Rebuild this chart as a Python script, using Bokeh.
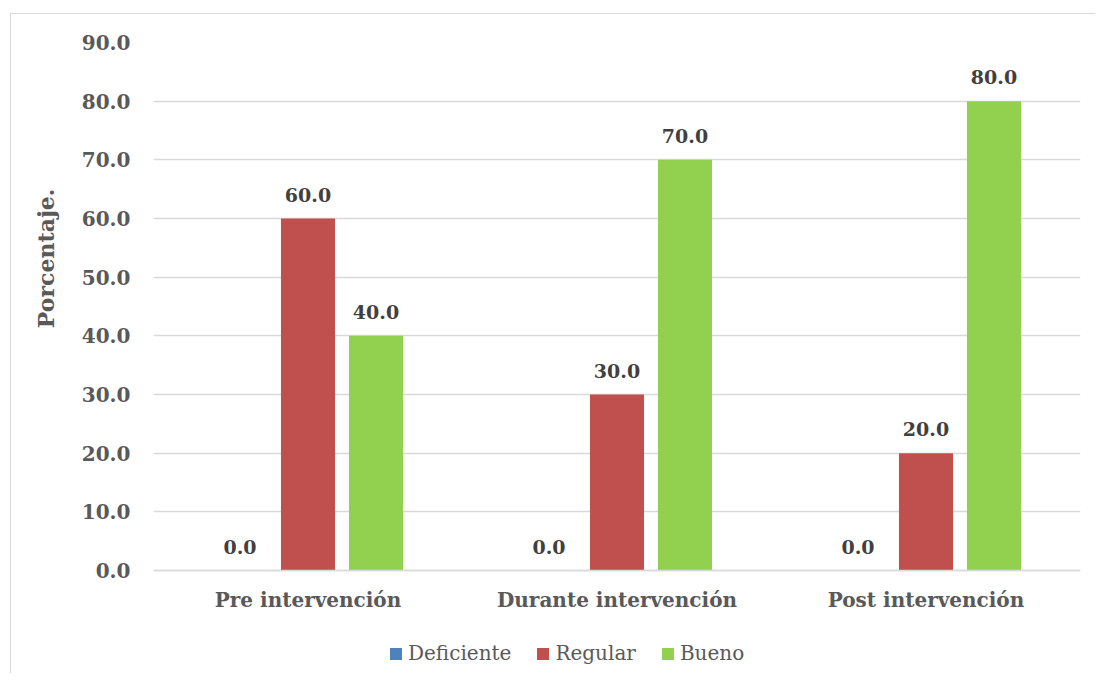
from bokeh.plotting import figure
from bokeh.models import (ColumnDataSource, FactorRange, FixedTicker, NumeralTickFormatter,
                          Legend, LegendItem, Title)
from bokeh.transform import dodge
from bokeh.core.properties import value
from bokeh.embed import file_html
from bokeh.resources import INLINE

categories = ["Pre intervención", "Durante intervención", "Post intervención"]
series_names = ["Deficiente", "Regular", "Bueno"]
deficiente = [0.0, 0.0, 0.0]
regular = [60.0, 30.0, 20.0]
bueno = [40.0, 70.0, 80.0]
y_ticks = [0, 10, 20, 30, 40, 50, 60, 70, 80, 90]
colors = ["#4F81BD", "#C0504D", "#92D050"]
y_title = "Porcentaje."

series_values = [deficiente, regular, bueno]
data = {"cat": categories}
for name, vals in zip(series_names, series_values):
    data[name] = vals
    data[name + "_lbl"] = [f"{v:.1f}" for v in vals]
src = ColumnDataSource(data)

FONT = "DejaVu Serif"

# frame spans 90 units over 528 px; extra room below zero holds the axis labels and legend
p = figure(width=1085, height=660,
           x_range=FactorRange(factors=categories, range_padding=0),
           y_range=(-17.045, 90),
           output_backend="svg", toolbar_location=None,
           min_border_left=142, min_border_right=16,
           min_border_top=28, min_border_bottom=4)
p.styles = {"margin-left": "10px", "margin-top": "13px",
            "border-left": "1px solid #d9d9d9", "border-top": "1px solid #d9d9d9"}
p.outline_line_color = None
p.background_fill_color = "white"
p.border_fill_color = "white"

offsets = [-0.22, 0.0, 0.22]
renderers = []
for name, off, col in zip(series_names, offsets, colors):
    r = p.vbar(x=dodge("cat", off, range=p.x_range), top=name, width=0.175,
               source=src, fill_color=col, line_color=None)
    renderers.append(r)
    p.text(x=dodge("cat", off, range=p.x_range), y=name, text=name + "_lbl",
           source=src, text_align="center", text_baseline="alphabetic", y_offset=-24,
           text_font=value(FONT), text_font_style="bold", text_font_size="19px",
           text_color="#404040")

p.xgrid.grid_line_color = None
p.ygrid.grid_line_color = "#d9d9d9"
p.ygrid.grid_line_width = 1.3
p.ygrid.ticker = FixedTicker(ticks=y_ticks)

p.yaxis.ticker = FixedTicker(ticks=y_ticks)
p.yaxis.formatter = NumeralTickFormatter(format="0.0")
p.yaxis.axis_line_color = None
p.yaxis.major_tick_line_color = None
p.yaxis.major_tick_out = 0
p.yaxis.minor_tick_line_color = None
p.yaxis.minor_tick_out = 0
p.yaxis.major_label_text_font = FONT
p.yaxis.major_label_text_font_style = "bold"
p.yaxis.major_label_text_font_size = "20px"
p.yaxis.major_label_text_color = "#595959"
p.yaxis.major_label_standoff = 23

p.xaxis.fixed_location = 0
p.xaxis.axis_line_color = "#d9d9d9"
p.xaxis.axis_line_width = 1.3
p.xaxis.major_tick_line_color = None
p.xaxis.major_tick_out = 0
p.xaxis.minor_tick_line_color = None
p.xaxis.minor_tick_out = 0
p.xaxis.major_label_text_font = FONT
p.xaxis.major_label_text_font_style = "bold"
p.xaxis.major_label_text_font_size = "20px"
p.xaxis.major_label_text_color = "#595959"
p.xaxis.major_label_standoff = 17

p.add_layout(Title(text=y_title, align="right", vertical_align="middle", offset=146,
                   standoff=37, text_font=FONT, text_font_style="bold",
                   text_font_size="22px", text_color="#595959"), "left")

legend = Legend(items=[LegendItem(label=n, renderers=[r]) for n, r in zip(series_names, renderers)],
                orientation="horizontal", location=(235, 5),
                border_line_color=None, background_fill_alpha=0,
                padding=0, margin=0, spacing=24, label_standoff=5,
                glyph_width=15, glyph_height=15,
                label_text_font=FONT, label_text_font_size="20px",
                label_text_color="#595959")
p.add_layout(legend)

open("out.html", "w").write(file_html(p, INLINE))
